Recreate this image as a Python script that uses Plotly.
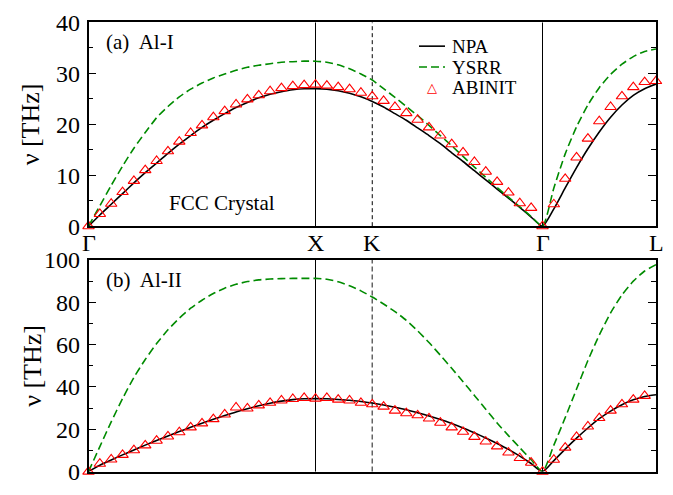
import plotly.graph_objects as go

W, H = 673, 495

# k-path coordinate (Γ=0, X=1, K=1.25, Γ=2, L=2.5), sampled every 0.05
q = [0.00, 0.05, 0.10, 0.15, 0.20, 0.25, 0.30, 0.35, 0.40, 0.45,
     0.50, 0.55, 0.60, 0.65, 0.70, 0.75, 0.80, 0.85, 0.90, 0.95,
     1.00, 1.05, 1.10, 1.15, 1.20, 1.25, 1.30, 1.35, 1.40, 1.45,
     1.50, 1.55, 1.60, 1.65, 1.70, 1.75, 1.80, 1.85, 1.90, 1.95,
     2.00, 2.05, 2.10, 2.15, 2.20, 2.25, 2.30, 2.35, 2.40, 2.45, 2.50]

sym_pos = [0.0, 1.0, 1.25, 2.0, 2.5]
sym_lab = ["Γ", "X", "K", "Γ", "L"]

# ---- panel (a) Al-I ----
npa_a = [0, 2.2, 4.3, 6.4, 8.5, 10.5, 12.4, 14.3, 16.1, 17.8,
         19.4, 20.8, 22.1, 23.3, 24.3, 25.2, 25.9, 26.4, 26.8, 27.0,
         27.0, 26.9, 26.6, 26.1, 25.4, 24.5, 23.4, 22.1, 20.8, 19.3,
         17.8, 16.2, 14.4, 12.7, 10.9, 9.1, 7.3, 5.5, 3.7, 1.8,
         0, 3.4, 7.5, 11.5, 15.2, 18.5, 21.4, 23.8, 25.7, 27.0, 27.9]
ysrr_a = [0, 4.0, 8.0, 11.8, 15.3, 18.4, 21.3, 23.5, 25.4, 26.9,
          28.1, 29.1, 29.9, 30.6, 31.2, 31.6, 31.9, 32.2, 32.3, 32.4,
          32.4, 32.2, 31.7, 30.9, 29.9, 28.7, 27.0, 25.3, 23.5, 21.7,
          19.8, 17.8, 15.8, 13.7, 11.6, 9.6, 7.6, 5.7, 3.8, 1.9,
          0, 7.5, 14.2, 19.5, 23.8, 27.2, 29.8, 31.8, 33.3, 34.3, 34.8]
abinit_a = [0, 2.4, 4.4, 6.7, 8.9, 11.0, 12.8, 14.7, 16.6, 18.3,
            19.8, 21.4, 22.6, 23.9, 24.9, 25.7, 26.5, 27.1, 27.5, 27.7,
            27.8, 27.6, 27.3, 26.9, 26.2, 25.5, 24.6, 23.4, 22.2, 20.9,
            19.4, 17.8, 16.1, 14.5, 12.6, 10.7, 8.7, 6.6, 4.5, 3.6,
            0, 4.3, 9.3, 13.5, 17.2, 20.6, 23.4, 25.5, 27.3, 28.3, 28.5]

# ---- panel (b) Al-II ----
npa_b = [0, 3.0, 5.5, 7.9, 10.2, 12.5, 14.7, 16.8, 18.9, 20.9,
         22.8, 24.7, 26.5, 28.2, 29.7, 31.1, 32.3, 33.3, 34.0, 34.4,
         34.5, 34.4, 34.1, 33.7, 33.1, 32.4, 31.5, 30.4, 29.2, 27.8,
         26.3, 24.6, 22.7, 20.6, 18.3, 15.9, 13.3, 10.5, 7.3, 3.8,
         0, 5.2, 10.6, 15.8, 20.6, 25.0, 28.6, 31.6, 33.9, 35.5, 36.3]
ysrr_b = [0, 11.8, 23.5, 34.5, 44.5, 53.0, 60.5, 67.0, 72.5, 77.2,
          81.0, 84.2, 86.7, 88.5, 89.8, 90.6, 91.0, 91.2, 91.3, 91.3,
          91.3, 90.9, 89.7, 87.8, 85.4, 82.5, 79.2, 75.6, 71.5, 66.5,
          61.0, 55.0, 48.8, 42.5, 36.0, 29.5, 23.0, 17.0, 11.3, 5.6,
          0, 12.5, 25.5, 39.0, 52.5, 64.5, 75.0, 83.5, 90.0, 94.8, 97.8]
abinit_b = [0, 3.7, 5.7, 7.9, 10.1, 12.4, 14.6, 16.6, 18.6, 20.9,
            22.8, 24.8, 27.0, 30.3, 29.8, 31.3, 32.5, 33.6, 34.3, 34.8,
            34.5, 34.8, 34.0, 33.6, 32.5, 31.8, 30.7, 28.8, 27.6, 26.6,
            25.1, 23.1, 20.9, 18.8, 16.4, 14.2, 11.9, 9.0, 6.4, 4.2,
            0, 5.6, 11.3, 16.4, 21.3, 25.3, 28.8, 31.8, 34.0, 35.8]

FONT = "Liberation Serif"
GREEN = "rgb(0,139,0)"
RED = "rgb(255,0,0)"


def px_x(p):
    return p / W


def px_y(p):
    return 1 - p / H


fig = go.Figure()

panels = [("x", "y", npa_a, ysrr_a, abinit_a), ("x2", "y2", npa_b, ysrr_b, abinit_b)]
for xa, ya, npa, ysrr, ab in panels:
    fig.add_trace(go.Scatter(x=q[:len(npa)], y=npa, xaxis=xa, yaxis=ya, mode="lines",
                             line=dict(color="black", width=1.6, shape="spline", smoothing=0.6),
                             showlegend=False, name="NPA"))
    fig.add_trace(go.Scatter(x=q[:len(ysrr)], y=ysrr, xaxis=xa, yaxis=ya, mode="lines",
                             line=dict(color=GREEN, width=1.6, dash="8px,4px", shape="spline", smoothing=0.6),
                             showlegend=False, name="YSRR"))
    fig.add_trace(go.Scatter(x=q[:len(ab)], y=ab, xaxis=xa, yaxis=ya, mode="markers",
                             marker=dict(symbol="triangle-up-open", size=10, color=RED,
                                         line=dict(color=RED, width=1.1)),
                             cliponaxis=False, showlegend=False, name="ABINIT"))

# plot area geometry (pixels)
L, R = 88.5, 656.0
TOP_A, BOT_A = 10.0, 225.0
TOP_B, BOT_B = 260.7, 484.0

axis_common = dict(showgrid=False, zeroline=False, showline=True, linecolor="black",
                   linewidth=1.5)
yfont = dict(family=FONT, size=24, color="black")

fig.update_layout(
    width=W, height=H, margin=dict(l=0, r=0, t=0, b=0),
    paper_bgcolor="white", plot_bgcolor="white",
    xaxis=dict(domain=[px_x(L), px_x(R)], anchor="y", range=[0, 2.5], mirror=True,
               showticklabels=False, ticks="", **axis_common),
    yaxis=dict(domain=[px_y(BOT_A), px_y(TOP_A)], anchor="x", range=[0, 40], mirror="ticks",
               tickvals=[0, 10, 20, 30, 40], ticks="inside", ticklen=8, tickwidth=1,
               tickcolor="black", tickfont=yfont, ticklabelstandoff=2,
               minor=dict(tickvals=[5, 15, 25, 35], ticks="inside", ticklen=5,
                          tickcolor="black", tickwidth=1),
               **axis_common),
    xaxis2=dict(domain=[px_x(L), px_x(R)], anchor="y2", range=[0, 2.5], mirror=True,
                showticklabels=False, ticks="", **axis_common),
    yaxis2=dict(domain=[px_y(BOT_B), px_y(TOP_B)], anchor="x2", range=[0, 100], mirror="ticks",
                tickvals=[0, 20, 40, 60, 80, 100], ticks="inside", ticklen=8, tickwidth=1,
                tickcolor="black", tickfont=yfont, ticklabelstandoff=2,
                minor=dict(tickvals=[10, 30, 50, 70, 90], ticks="inside", ticklen=5,
                           tickcolor="black", tickwidth=1),
                **axis_common),
)

# high-symmetry point labels between the panels
for pos, lab in zip(sym_pos, sym_lab):
    fig.add_annotation(text=lab, xref="x", yref="paper", x=pos, y=px_y(243),
                       xanchor="center", yanchor="middle", showarrow=False,
                       font=dict(family=FONT, size=24, color="black"))

# high-symmetry vertical lines
for xa, yd, kcol, kw, kdash in [("x", "y domain", "black", 1, "4px,3px"),
                                ("x2", "y2 domain", "rgb(100,100,100)", 1.5, "5px,3px")]:
    for pos in [1.0, 2.0]:
        fig.add_shape(type="line", xref=xa, yref=yd, x0=pos, x1=pos, y0=0, y1=1,
                      line=dict(color="black", width=1), layer="below")
    fig.add_shape(type="line", xref=xa, yref=yd, x0=1.25, x1=1.25, y0=0, y1=1,
                  line=dict(color=kcol, width=kw, dash=kdash), layer="below")

# legend (panel a)
lx0, lx1, ltx = 419, 445, 451
rows = [35, 57, 79]
fig.add_shape(type="line", xref="paper", yref="paper", x0=px_x(lx0), x1=px_x(lx1),
              y0=px_y(rows[0]), y1=px_y(rows[0]), line=dict(color="black", width=1.6))
fig.add_shape(type="line", xref="paper", yref="paper", x0=px_x(lx0), x1=px_x(lx1),
              y0=px_y(rows[1]), y1=px_y(rows[1]), line=dict(color=GREEN, width=1.6, dash="8px,4px"))
legend_font = dict(family=FONT, size=19, color="black")
for txt, r in zip(["NPA", "YSRR", "ABINIT"], rows):
    fig.add_annotation(text=txt, xref="paper", yref="paper", x=px_x(ltx), y=px_y(r),
                       xanchor="left", yanchor="middle", showarrow=False, font=legend_font,
                       borderpad=0)
fig.add_annotation(text="△", xref="paper", yref="paper", x=px_x(432), y=px_y(rows[2]),
                   xanchor="center", yanchor="middle", showarrow=False, borderpad=0,
                   font=dict(family="DejaVu Sans", size=13, color=RED))

# panel labels and text
ann_font = dict(family=FONT, size=21, color="black")
fig.add_annotation(text="(a)  Al-I", xref="paper", yref="paper", x=px_x(104), y=px_y(31),
                   xanchor="left", yanchor="middle", showarrow=False, font=ann_font)
fig.add_annotation(text="(b)  Al-II", xref="paper", yref="paper", x=px_x(104), y=px_y(282),
                   xanchor="left", yanchor="middle", showarrow=False, font=ann_font)
fig.add_annotation(text="FCC Crystal", xref="paper", yref="paper", x=px_x(167), y=px_y(201),
                   xanchor="left", yanchor="middle", showarrow=False, font=ann_font)

# y-axis titles
title_font = dict(family=FONT, size=26, color="black")
for cx, cy in [(30, (TOP_A + BOT_A) / 2), (33, (TOP_B + BOT_B) / 2)]:
    fig.add_annotation(text="ν [THz]", xref="paper", yref="paper", x=px_x(cx), y=px_y(cy),
                       xanchor="center", yanchor="middle", textangle=-90, showarrow=False,
                       font=title_font)

fig.write_html("out.html")
